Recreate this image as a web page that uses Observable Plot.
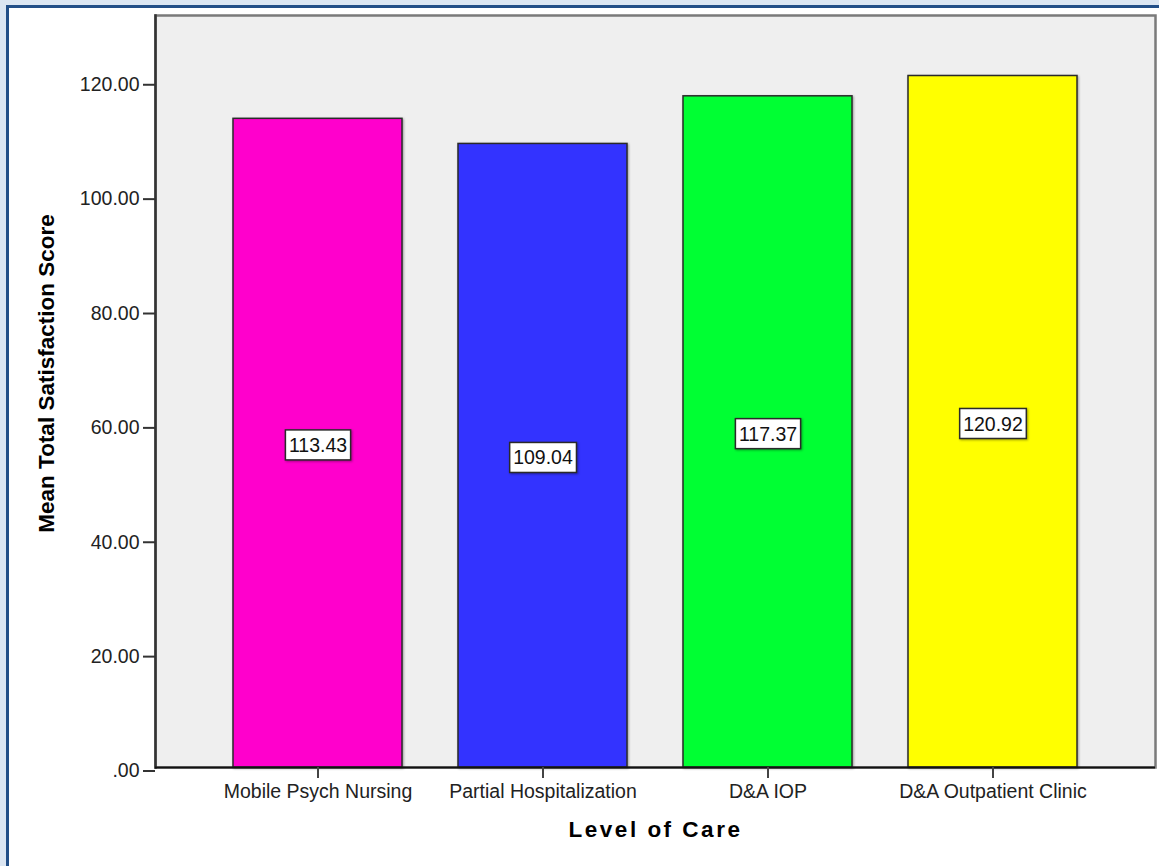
<!DOCTYPE html>
<html>
<head>
<meta charset="utf-8">
<script src="https://cdn.jsdelivr.net/npm/d3@7"></script>
<script src="https://cdn.jsdelivr.net/npm/@observablehq/plot@0.6"></script>
<style>
  html, body { margin: 0; padding: 0; background: #dce6f2; }
  #page { position: relative; width: 1159px; height: 866px; overflow: hidden; background: #dce6f2; }
  #inner { position: absolute; left: 6px; top: 5px; width: 1200px; height: 900px;
           background: #ffffff; border-left: 3px solid #234f87; border-top: 3px solid #234f87; }
  #chart { position: absolute; left: 0; top: 0; }
  #chart svg { font-family: "Liberation Sans", Arial, sans-serif; }
  g[aria-label="bar"] rect { filter: drop-shadow(1px 1px 1px rgba(0,0,0,0.35)); }
</style>
</head>
<body>
<div id="page">
  <div id="inner"></div>
  <div id="chart"></div>
</div>
<script>
// ---- data ----
const categories = ["Mobile Psych Nursing", "Partial Hospitalization", "D&A IOP", "D&A Outpatient Clinic"];
const meanScores = [113.43, 109.04, 117.37, 120.92];
const barColors = ["#ff00cc", "#3333ff", "#00ff33", "#ffff00"];
const yTicks = [0, 20, 40, 60, 80, 100, 120];
const yTitle = "Mean Total Satisfaction Score";
const xTitle = "Level of Care";

const data = categories.map((c, i) => ({cat: c, value: meanScores[i]}));
const fmt = d => d === 0 ? ".00" : d.toFixed(2);

const plot = Plot.plot({
  width: 1159,
  height: 866,
  marginLeft: 155,
  marginRight: 4,
  marginTop: 15,
  marginBottom: 99,
  style: {background: "transparent", fontFamily: "Liberation Sans, Arial, sans-serif"},
  x: {domain: categories, paddingInner: 0.25, paddingOuter: 0.347, axis: null},
  y: {domain: [0, 131.5], axis: null},
  color: {domain: categories, range: barColors},
  marks: [
    Plot.frame({fill: "#efefef", stroke: "#7a7a7a", strokeWidth: 2.5}),
    Plot.barY(data, {x: "cat", y: "value", fill: "cat", stroke: "#2a2a2a", strokeWidth: 1.5}),
    Plot.frame({anchor: "left", stroke: "#333333", strokeWidth: 2.5}),
    Plot.ruleY([0], {stroke: "#111111", strokeWidth: 2}),
    Plot.axisY({ticks: yTicks, tickFormat: fmt, tickSize: 12, tickPadding: 4, fontSize: 19.5,
                label: null, stroke: "#333", strokeWidth: 2, fill: "#222", dy: 3.5}),
    Plot.axisX({tickSize: 11, tickPadding: 6, fontSize: 19.5, label: null,
                stroke: "#444", strokeWidth: 2, fill: "#222"}),
    Plot.text(data, {x: "cat", y: d => d.value / 2, text: d => d.value.toFixed(2),
                     fontSize: 19.5, fill: "#111", dy: 2.5}),
    Plot.text([yTitle], {frameAnchor: "left", textAnchor: "middle", rotate: -90, dx: -108.5, dy: -18,
                         fontSize: 22.5, fontWeight: "bold", fill: "#000"}),
    Plot.text([xTitle], {frameAnchor: "bottom", textAnchor: "middle", dy: 69, fontSize: 22.5, fontWeight: "bold",
                         fill: "#000"})
  ]
});

document.getElementById("chart").appendChild(plot);

const textGroups = plot.querySelectorAll('g[aria-label="text"]');
// letter spacing for the x title
if (textGroups[2]) textGroups[2].querySelectorAll("text").forEach(t => t.style.letterSpacing = "2.5px");

// boxes behind the value labels
const svgNS = "http://www.w3.org/2000/svg";
if (textGroups[0]) textGroups[0].querySelectorAll("text").forEach(t => {
  const bb = t.getBBox();
  const r = document.createElementNS(svgNS, "rect");
  const cy = bb.y + bb.height / 2;
  r.setAttribute("x", bb.x - 3.5);
  r.setAttribute("y", cy - 15);
  r.setAttribute("width", bb.width + 7);
  r.setAttribute("height", 30);
  r.setAttribute("fill", "#ffffff");
  r.setAttribute("stroke", "#2a2a2a");
  r.setAttribute("stroke-width", 1.5);
  r.style.filter = "drop-shadow(1px 1px 1px rgba(0,0,0,0.35))";
  const tr = t.getAttribute("transform");
  if (tr) r.setAttribute("transform", tr);
  t.parentNode.insertBefore(r, t);
});
</script>
</body>
</html>
